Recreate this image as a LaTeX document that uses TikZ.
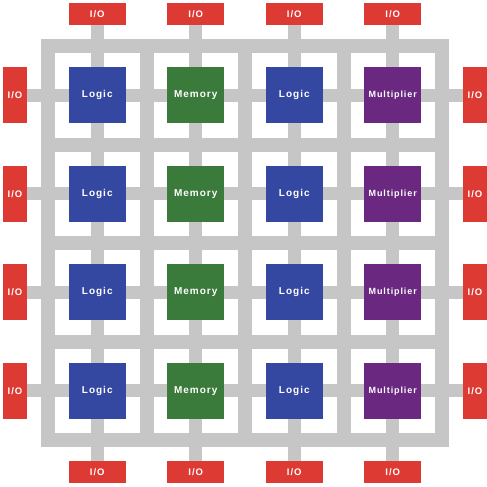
\documentclass[tikz,border=0pt]{standalone}
\usepackage{fontspec}
\setmainfont{Liberation Sans}[LetterSpace=10]
\begin{document}
\begin{tikzpicture}[x=1pt,y=-1pt,
  wire/.style={draw=wiregrey,line width=14pt},
  stub/.style={draw=wiregrey,line width=13pt},
  blk/.style={minimum width=57pt,minimum height=56pt,inner sep=0pt,text=white,font=\bfseries\fontsize{10}{12}\selectfont},
  logicblk/.style={blk,fill=logicblue},
  memblk/.style={blk,fill=memgreen},
  mulblk/.style={blk,fill=mulpurple,font=\bfseries\fontsize{9}{11}\selectfont},
  iohor/.style={minimum width=57pt,minimum height=22pt,inner sep=0pt,fill=iored,text=white,font=\bfseries\fontsize{9.5}{11}\selectfont},
  iover/.style={minimum width=24pt,minimum height=56pt,inner sep=0pt,fill=iored,text=white,font=\bfseries\fontsize{9.5}{11}\selectfont}]
\definecolor{wiregrey}{RGB}{198,198,198}
\definecolor{logicblue}{RGB}{52,72,162}
\definecolor{memgreen}{RGB}{58,122,58}
\definecolor{mulpurple}{RGB}{106,40,128}
\definecolor{iored}{RGB}{222,58,52}
\useasboundingbox (0,0) rectangle (487,487);
% routing channels around the tiles
\foreach \g in {0,...,4}{
  \draw[wire] (48+98.5*\g,46) -- (48+98.5*\g,440);
  \draw[wire] (48,46+98.5*\g) -- (442,46+98.5*\g);
}
\draw[wire,line cap=rect] (48,46) rectangle (442,440);
% local connections through each tile and out to the pads
\foreach \k in {1,...,4}{
  \coordinate (ct\k) at (48+98.5*\k-49.25,14);
  \coordinate (cb\k) at (48+98.5*\k-49.25,472);
  \coordinate (rl\k) at (15,46+98.5*\k-49.25);
  \coordinate (rr\k) at (475,46+98.5*\k-49.25);
  \draw[stub] (ct\k) -- (cb\k);
  \draw[stub] (rl\k) -- (rr\k);
}
% logic tiles
\foreach \r in {1,...,4}{
  \node[logicblk] (la\r) at (97.25,46+98.5*\r-49.25) {Logic};
  \node[memblk]   (m\r)  at (195.75,46+98.5*\r-49.25) {Memory};
  \node[logicblk] (lb\r) at (294.25,46+98.5*\r-49.25) {Logic};
  \node[mulblk]   (x\r)  at (392.75,46+98.5*\r-49.25) {Multiplier};
}
% I/O pads
\foreach \k in {1,...,4}{
  \node[iohor] (iot\k) at (ct\k) {I/O};
  \node[iohor] (iob\k) at (cb\k) {I/O};
  \node[iover] (iol\k) at (rl\k) {I/O};
  \node[iover] (ior\k) at (rr\k) {I/O};
}
\end{tikzpicture}
\end{document}
